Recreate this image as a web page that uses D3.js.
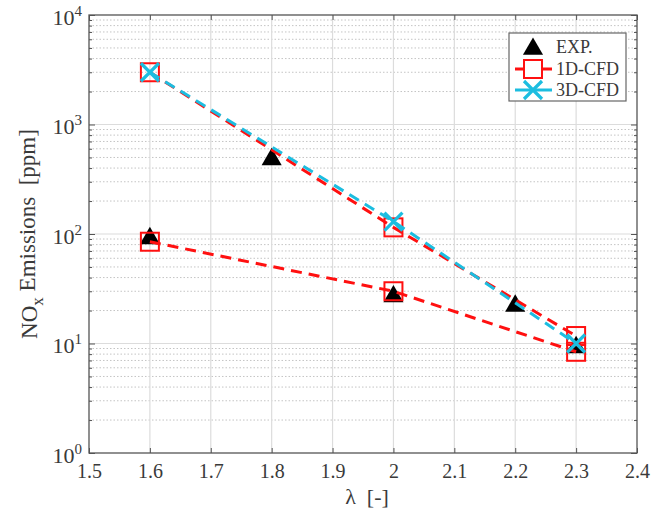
<!DOCTYPE html>
<html><head><meta charset="utf-8">
<script src="https://cdn.jsdelivr.net/npm/d3@7"></script>
<style>body{margin:0;background:#fff}</style>
</head><body><svg id="c" width="672" height="518"></svg>
<script>
// ---- data ----
const xTicks = [1.5, 1.6, 1.7, 1.8, 1.9, 2.0, 2.1, 2.2, 2.3, 2.4];
const xTickLabels = ["1.5", "1.6", "1.7", "1.8", "1.9", "2", "2.1", "2.2", "2.3", "2.4"];
const yTicks = [1, 10, 100, 1000, 10000];
const yTickExp = ["0", "1", "2", "3", "4"];

const expLambda = [1.6, 1.8, 2.0, 2.2, 2.3];
const expNOx = [95, 500, 28, 23, 9.6];

const cfd1dLambda = [1.6, 2.0, 2.3];
const cfd1dHigh = [3000, 115, 11.7];
const cfd1dLow = [85, 30, 8.4];

const cfd3dLambda = [1.6, 2.0, 2.3];
const cfd3dNOx = [3000, 130, 10];

const legendLabels = ["EXP.", "1D-CFD", "3D-CFD"];

// ---- layout ----
const L = 89, R = 637, T = 15, B = 453;
const RED = "#ff1010", CYAN = "#1cbde0", TXT = "#3a3a3a", AX = "#555";
const FONT = '"Liberation Serif"';

const svg = d3.select("#c");
const x = d3.scaleLinear().domain([1.5, 2.4]).range([L, R]);
const y = d3.scaleLog().domain([1, 10000]).range([B, T]);

// minor values
const minor = [];
for (let d = 0; d < 4; d++) for (let k = 2; k <= 9; k++) minor.push(k * Math.pow(10, d));

// grid
const g = svg.append("g");
g.selectAll(".ymin").data(minor).join("line")
  .attr("x1", L).attr("x2", R).attr("y1", d => y(d)).attr("y2", d => y(d))
  .attr("stroke", "#c4c4c4").attr("stroke-width", 1).attr("stroke-dasharray", "1.5,2");
g.selectAll(".xg").data(xTicks.slice(1, -1)).join("line")
  .attr("x1", d => x(d)).attr("x2", d => x(d)).attr("y1", T).attr("y2", B)
  .attr("stroke", "#dcdcdc").attr("stroke-width", 1.2);
g.selectAll(".yg").data(yTicks.slice(1, -1)).join("line")
  .attr("x1", L).attr("x2", R).attr("y1", d => y(d)).attr("y2", d => y(d))
  .attr("stroke", "#dcdcdc").attr("stroke-width", 1.2);

// axes (inward ticks)
function styleAxis(sel) {
  sel.select(".domain").remove();
  sel.selectAll("line").attr("stroke", AX).attr("stroke-width", 1);
}
svg.append("g").attr("transform", `translate(0,${B})`)
  .call(d3.axisBottom(x).tickValues(xTicks).tickSize(-5).tickPadding(11)
    .tickFormat((d, i) => xTickLabels[i]))
  .call(styleAxis)
  .selectAll("text").style("font-family", FONT).attr("font-size", 20).attr("fill", TXT);
svg.append("g").attr("transform", `translate(0,${T})`)
  .call(d3.axisTop(x).tickValues(xTicks).tickSize(-5).tickFormat(""))
  .call(styleAxis);

const yl = svg.append("g").attr("transform", `translate(${L},0)`)
  .call(d3.axisLeft(y).tickValues(yTicks).tickSize(-6).tickFormat(""))
  .call(styleAxis);
yl.selectAll(".tick").each(function(d, i) {
  const t = d3.select(this).append("text")
    .attr("x", -7).attr("dy", "0.42em").attr("text-anchor", "end")
    .style("font-family", FONT).attr("font-size", 22).attr("fill", TXT);
  t.append("tspan").text("10");
  t.append("tspan").attr("dy", "-0.6em").attr("font-size", 15).text(yTickExp[i]);
});
svg.append("g").attr("transform", `translate(${L},0)`)
  .call(d3.axisLeft(y).tickValues(minor).tickSize(-3).tickFormat(""))
  .call(styleAxis);
svg.append("g").attr("transform", `translate(${R},0)`)
  .call(d3.axisRight(y).tickValues(yTicks).tickSize(-6).tickFormat(""))
  .call(styleAxis);
svg.append("g").attr("transform", `translate(${R},0)`)
  .call(d3.axisRight(y).tickValues(minor).tickSize(-3).tickFormat(""))
  .call(styleAxis);

// frame
svg.append("rect").attr("x", L).attr("y", T).attr("width", R - L).attr("height", B - T)
  .attr("fill", "none").attr("stroke", AX).attr("stroke-width", 1.3);

// axis labels
svg.append("text").attr("x", (L + R) / 2 + 4).attr("y", 504).attr("text-anchor", "middle")
  .style("font-family", FONT).attr("font-size", 22).attr("fill", TXT).text("λ\u00a0\u00a0[-]");
const ylab = svg.append("text").attr("transform", `translate(37,${(T + B) / 2}) rotate(-90)`)
  .attr("text-anchor", "middle").style("font-family", FONT).attr("font-size", 23).attr("fill", TXT);
ylab.append("tspan").text("NO");
ylab.append("tspan").attr("dy", "0.35em").attr("font-size", 17).text("x");
ylab.append("tspan").attr("dy", "-0.35em").text("\u00a0Emissions\u00a0\u00a0[ppm]");

// markers
const tri = d3.symbol().type(d3.symbolTriangle).size(175);
function drawTri(sel, cx, cy) {
  sel.append("path").attr("d", tri()).attr("transform", `translate(${cx},${cy + 2})`).attr("fill", "#000");
}
function drawSq(sel, cx, cy) {
  sel.append("rect").attr("x", cx - 9).attr("y", cy - 9).attr("width", 18).attr("height", 18)
    .attr("fill", "none").attr("stroke", RED).attr("stroke-width", 2);
}
function drawX(sel, cx, cy) {
  const s = 9;
  sel.append("path").attr("d", `M${cx - s},${cy - s}L${cx + s},${cy + s}M${cx - s},${cy + s}L${cx + s},${cy - s}`)
    .attr("stroke", CYAN).attr("stroke-width", 3.2).attr("fill", "none");
}

const plot = svg.append("g");
// EXP
expLambda.forEach((l, i) => drawTri(plot, x(l), y(expNOx[i])));

const line = d3.line().x(d => x(d[0])).y(d => y(d[1]));
// 1D-CFD
[cfd1dHigh, cfd1dLow].forEach(vals => {
  plot.append("path").datum(cfd1dLambda.map((l, i) => [l, vals[i]])).attr("d", line)
    .attr("fill", "none").attr("stroke", RED).attr("stroke-width", 3).attr("stroke-dasharray", "11,7");
  cfd1dLambda.forEach((l, i) => drawSq(plot, x(l), y(vals[i])));
});
// 3D-CFD
plot.append("path").datum(cfd3dLambda.map((l, i) => [l, cfd3dNOx[i]])).attr("d", line)
  .attr("fill", "none").attr("stroke", CYAN).attr("stroke-width", 3).attr("stroke-dasharray", "11,7");
cfd3dLambda.forEach((l, i) => drawX(plot, x(l), y(cfd3dNOx[i])));

// legend
const lg = svg.append("g");
lg.append("rect").attr("x", 509).attr("y", 33).attr("width", 117).attr("height", 68)
  .attr("fill", "#fff").attr("stroke", "#666").attr("stroke-width", 1.2);
const rows = [47, 69, 90];
drawTri(lg, 533, rows[0]);
lg.append("line").attr("x1", 515).attr("x2", 552).attr("y1", rows[1]).attr("y2", rows[1])
  .attr("stroke", RED).attr("stroke-width", 3);
lg.append("rect").attr("x", 524).attr("y", rows[1] - 9).attr("width", 18).attr("height", 18)
  .attr("fill", "#fff").attr("stroke", RED).attr("stroke-width", 2);
lg.append("line").attr("x1", 515).attr("x2", 552).attr("y1", rows[2]).attr("y2", rows[2])
  .attr("stroke", CYAN).attr("stroke-width", 3);
drawX(lg, 533, rows[2]);
legendLabels.forEach((t, i) => lg.append("text").attr("x", 556).attr("y", rows[i]).attr("dy", "0.35em")
  .style("font-family", FONT).attr("font-size", 18).attr("fill", TXT).text(t));
</script></body></html>
